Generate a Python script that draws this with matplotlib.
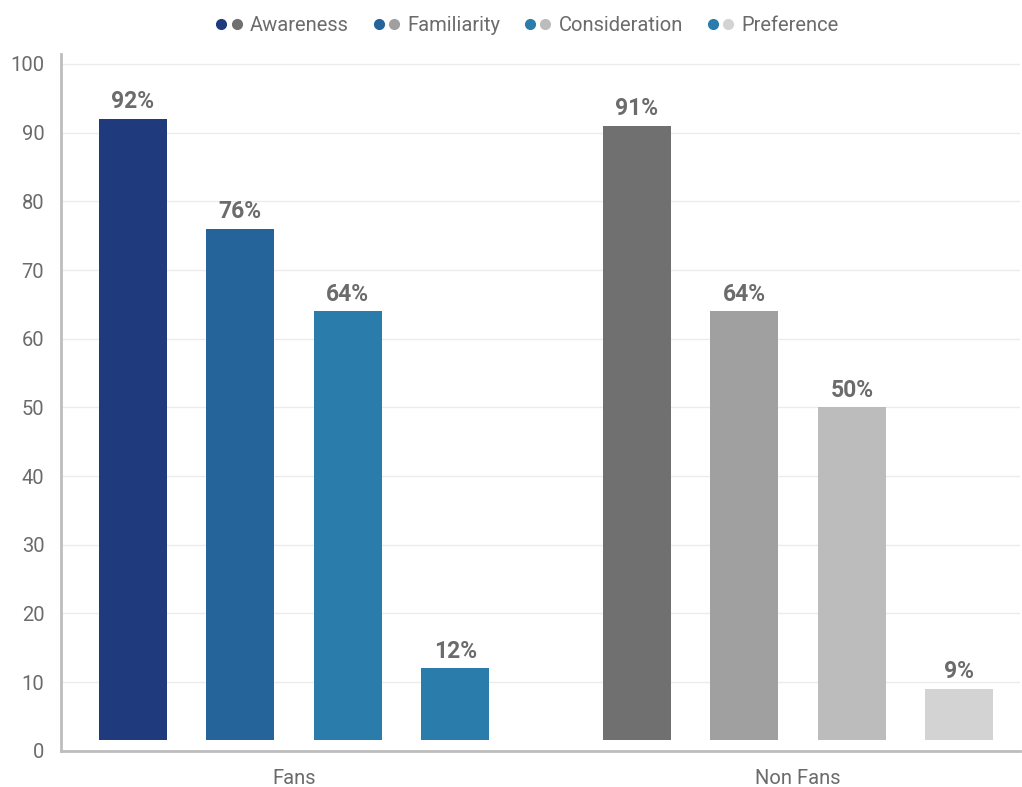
import matplotlib.pyplot as plt
import numpy as np
from matplotlib.lines import Line2D
from matplotlib.legend_handler import HandlerTuple

plt.rcParams['font.family'] = ['Roboto', 'DejaVu Sans']

# funnel stages per audience
groups = ['Fans', 'Non Fans']
stages = ['Awareness', 'Familiarity', 'Consideration', 'Preference']
fans = [92, 76, 64, 12]
non_fans = [91, 64, 50, 9]

fan_colors = ['#1f3b7e', '#24649a', '#2a7daa', '#2a7daa']
non_fan_colors = ['#707070', '#a0a0a0', '#bcbcbc', '#d3d3d3']

text_gray = '#6b6b6b'

fig = plt.figure(figsize=(10.22, 7.87), dpi=100)
ax = fig.add_axes([0.0597, 0.0461, 0.9383, 0.8848])

gx = np.arange(len(groups))
step = 0.2133
width = 0.135
base = 1.5  # small lift of the bars off the axis line

for i, stage in enumerate(stages):
    off = (i - 1.5) * step
    for g, vals, cols in [(0, fans, fan_colors), (1, non_fans, non_fan_colors)]:
        v = vals[i]
        ax.bar(gx[g] + off, v - base, width, bottom=base, color=cols[i], zorder=3)
        ax.annotate(f'{v}%', (gx[g] + off, v), xytext=(0, 4), textcoords='offset points',
                    ha='center', va='bottom', fontsize=16.5, fontweight='bold', color=text_gray)

ax.set_xlim(-0.462, 1.440)
ax.set_ylim(0, 101.4)
ax.set_yticks(range(0, 101, 10))
ax.set_xticks(gx)
ax.set_xticklabels(groups)
ax.tick_params(axis='both', length=0, labelsize=14.5, colors=text_gray)
ax.tick_params(axis='x', pad=13)
ax.tick_params(axis='y', pad=12)

ax.grid(axis='y', color='#ececec', linewidth=1, zorder=0)
ax.set_axisbelow(True)
for s in ['top', 'right']:
    ax.spines[s].set_visible(False)
for s in ['left', 'bottom']:
    ax.spines[s].set_color('#bdbdbd')
    ax.spines[s].set_linewidth(2)

handles = []
for c1, c2 in zip(fan_colors, non_fan_colors):
    h1 = Line2D([], [], marker='o', linestyle='none', markersize=7, color=c1)
    h2 = Line2D([], [], marker='o', linestyle='none', markersize=7, color=c2)
    handles.append((h1, h2))

fig.legend(handles, stages, handler_map={tuple: HandlerTuple(ndivide=None, pad=0.0)},
           loc='center', bbox_to_anchor=(0.515, 0.967), ncol=4, frameon=False,
           fontsize=14.5, labelcolor=text_gray, handlelength=1.5, handletextpad=0.3,
           columnspacing=1.1)

fig.savefig('out.png', dpi=100)
